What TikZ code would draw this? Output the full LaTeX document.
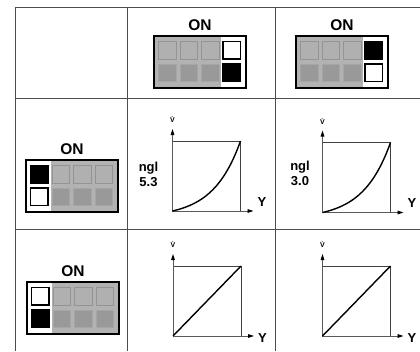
\documentclass[tikz,border=0pt]{standalone}
\usepackage{fontspec}
\setmainfont{Liberation Sans}
\usetikzlibrary{positioning, arrows.meta}

% DIP switch: name, top-left corner, side of the ON column (0 = left, 1 = right), top fill, bottom fill
\newcommand{\dipswitch}[5]{%
  \begin{scope}[shift={(#2)}]
    \fill[swgray] (0,0) rectangle (92,52);
    \fill[white] ({67*#3},0) rectangle ({25+67*#3},52);
    \foreach \i in {0,1,2} {
      \draw[offtop] ({4.5+21.5*(\i+1-#3)},5.5) rectangle ++(17.5,17.5);
      \draw[offbottom] ({4.5+21.5*(\i+1-#3)},28) rectangle ++(17.5,17.5);
    }
    \draw[oncell, fill=#4] ({4.5+64.5*#3},5.5) rectangle ++(17.5,17.5);
    \draw[oncell, fill=#5] ({4.5+64.5*#3},28) rectangle ++(17.5,17.5);
    \node[swbox] (#1) at (46,26) {};
    \node[onlabel, above=4pt of #1] (#1-on) {ON};
  \end{scope}}

% characteristic: name, lower left corner, curve, shift of the Y label
\newcommand{\rategraph}[4]{%
  \begin{scope}[shift={(#2)}]
    \coordinate (#1) at (0,0);
    \coordinate (#1-tr) at (68,-70);
    \coordinate (#1-v) at (0,-82);
    \coordinate (#1-h) at (81,0);
    \draw[frame] (#1) rectangle (#1-tr);
    \draw[axis] (#1) -- (#1-v);
    \draw[axis] (#1) -- (#1-h);
    \draw[curve] #3;
    \node[vlabel, above=6pt of #1-v] (#1-vl) {\.{V}};
    \node[ylabel, right=4pt of #1-h, yshift=#4] (#1-yl) {Y};
  \end{scope}}

\begin{document}
\begin{tikzpicture}[
    x=1pt, y=-1pt,
    % Styles
    grid/.style={draw=black!70, line width=1pt},
    swgray/.style={fill=black!30},
    offtop/.style={fill=black!31, draw=black!42, line width=1pt},
    offbottom/.style={fill=black!40, draw=black!35, line width=1pt},
    oncell/.style={draw=black, line width=1.3pt},
    swbox/.style={draw, line width=1.6pt, minimum width=92pt, minimum height=52pt, inner sep=0pt},
    onlabel/.style={font=\fontsize{15.5}{18}\selectfont\bfseries, inner sep=0pt},
    frame/.style={draw=black!75, line width=0.8pt},
    axis/.style={draw=black!65, line width=0.9pt, -{Triangle[length=6pt, width=3.6pt, black]}},
    curve/.style={line width=1.4pt},
    vlabel/.style={font=\fontsize{7}{8}\selectfont\bfseries, inner sep=0pt},
    ylabel/.style={font=\fontsize{13}{15}\selectfont\bfseries, inner sep=0pt},
    nglabel/.style={font=\fontsize{13}{15}\selectfont\bfseries, align=center, inner sep=0pt}
]
    \useasboundingbox (0,0) rectangle (420,351);

    % --- TABLE ---
    \foreach \y in {7,98.5,229}
        \draw[grid] (15,\y) -- (420,\y);
    \foreach \x in {15,127.7,275}
        \draw[grid] (\x,7) -- (\x,351);

    % --- SWITCHES ---
    \dipswitch{sw12}{154,36}{1}{white}{black}
    \dipswitch{sw13}{296,36}{1}{black}{white}
    \dipswitch{sw21}{26,160}{0}{black}{white}
    \dipswitch{sw31}{27,282}{0}{white}{black}

    % --- CHARACTERISTICS ---
    \rategraph{g22}{172.5,211}{plot[smooth, domain=0:1, samples=40] ({68*\x},{-70*(exp(2.5*\x)-1)/(exp(2.5)-1)})}{9pt}
    \rategraph{g23}{322.5,212.5}{plot[smooth, domain=0:1, samples=40] ({68*\x},{-70*(exp(2.5*\x)-1)/(exp(2.5)-1)})}{9pt}
    \rategraph{g32}{173,336}{(g32) -- (g32-tr)}{-2pt}
    \rategraph{g33}{322.5,336}{(g33) -- (g33-tr)}{-2pt}

    % Annotation
    \node[nglabel] (ngl22) at (148.5,174.5) {ngl\\5.3};
    \node[nglabel] (ngl23) at (300,173.5) {ngl\\3.0};

\end{tikzpicture}
\end{document}
